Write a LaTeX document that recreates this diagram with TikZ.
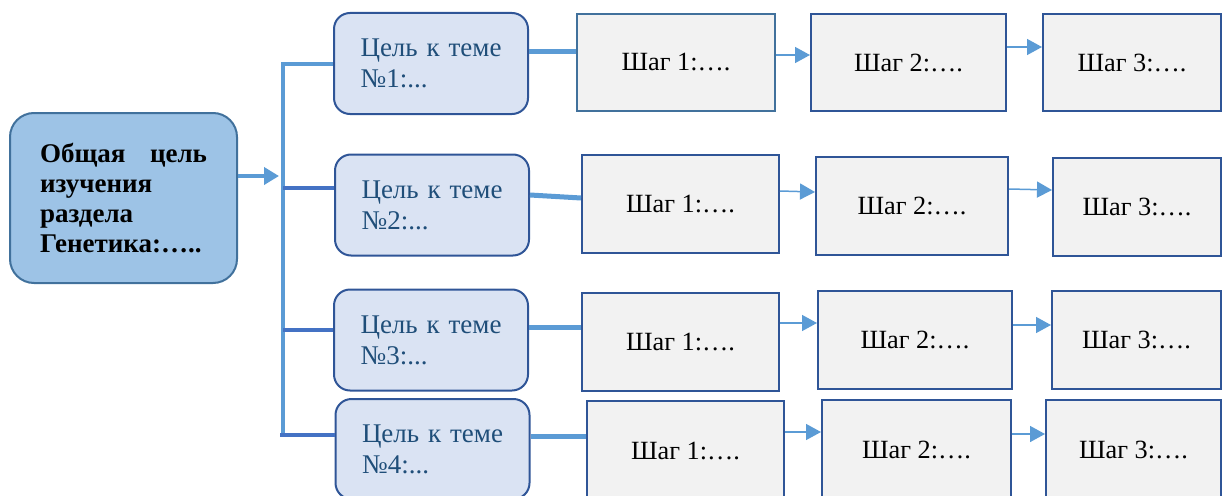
\documentclass[tikz,border=0pt]{standalone}
\usepackage{fontspec}
\setmainfont{Liberation Serif}
\usetikzlibrary{arrows.meta,calc}
\definecolor{mainfill}{HTML}{9DC3E6}
\definecolor{mainborder}{HTML}{41719C}
\definecolor{topicfill}{HTML}{DAE3F3}
\definecolor{topicborder}{HTML}{2F5597}
\definecolor{stepfill}{HTML}{F2F2F2}
\definecolor{stepborder}{HTML}{2F5597}
\definecolor{lightline}{HTML}{5B9BD5}
\definecolor{darkline}{HTML}{4472C4}
\definecolor{topictext}{HTML}{1F4E79}
\tikzset{
  mainbox/.style={draw=mainborder, fill=mainfill, line width=2pt, rounded corners=24pt,
    inner sep=0pt, minimum width=227pt, minimum height=170pt,
    font=\fontsize{27}{30}\selectfont\bfseries, text width=167pt, align=left},
  topicbox/.style={draw=topicborder, fill=topicfill, line width=2pt, rounded corners=16pt,
    inner sep=0pt, minimum width=194pt, minimum height=101pt,
    font=\fontsize{27}{31}\selectfont, text=topictext, text width=141pt, align=left},
  stepbox/.style={draw=stepborder, fill=stepfill, line width=2pt, inner sep=0pt,
    font=\fontsize{26.3}{30}\selectfont},
  barline/.style={draw=lightline, line width=4pt},
  branchline/.style={draw=darkline, line width=4.5pt},
  linkline/.style={draw=lightline, line width=5pt},
  steparrow/.style={draw=lightline, line width=1.5pt, -{Triangle[length=15pt,width=16pt]}},
  mainarrow/.style={draw=lightline, line width=4.5pt, -{Triangle[length=15pt,width=17pt]}},
}
\newcommand{\topictxt}[1]{\makebox[141pt][l]{Цель\hfill к\hfill теме}\\#1}
\begin{document}
\begin{tikzpicture}[x=1pt,y=-1pt]
\useasboundingbox (0,0) rectangle (1222,495);
% main box
\node[mainbox] (m) at (123.5,198) {\makebox[167pt][l]{Общая\hfill цель}\\изучения\\раздела\\Генетика:…..};
% topic boxes
\node[topicbox] (t1) at (431,63.5) {\topictxt{№1:...}};
\node[topicbox] (t2) at (432,205) {\topictxt{№2:...}};
\node[topicbox] (t3) at (431,340) {\topictxt{№3:...}};
\node[topicbox, minimum height=100pt] (t4) at (432.5,449) {\topictxt{№4:...}};
% step boxes row 1
\node[stepbox, draw=mainborder, minimum width=198pt, minimum height=97pt] (s11) at (676,62.5) {Шаг 1:….};
\node[stepbox, minimum width=195pt, minimum height=97pt] (s12) at (908.5,62.5) {Шаг 2:….};
\node[stepbox, minimum width=178pt, minimum height=97pt] (s13) at (1132,62.5) {Шаг 3:….};
% row 2
\node[stepbox, minimum width=197pt, minimum height=98pt] (s21) at (680.5,204) {Шаг 1:….};
\node[stepbox, minimum width=192pt, minimum height=98pt] (s22) at (912,206) {Шаг 2:….};
\node[stepbox, minimum width=168pt, minimum height=98pt] (s23) at (1137,207) {Шаг 3:….};
% row 3
\node[stepbox, minimum width=197pt, minimum height=98pt] (s31) at (680.5,342) {Шаг 1:….};
\node[stepbox, minimum width=194pt, minimum height=98pt] (s32) at (915,340) {Шаг 2:….};
\node[stepbox, minimum width=169pt, minimum height=98pt] (s33) at (1136.5,340) {Шаг 3:….};
% row 4
\node[stepbox, minimum width=197pt, minimum height=100pt] (s41) at (685.5,451) {Шаг 1:….};
\node[stepbox, minimum width=189pt, minimum height=100pt] (s42) at (916.5,450) {Шаг 2:….};
\node[stepbox, minimum width=175pt, minimum height=100pt] (s43) at (1133.5,450) {Шаг 3:….};
% bracket
\coordinate (bbot) at (283,437);
\draw[barline] (t1.west) -| (bbot);
\coordinate (b2) at ($(t2.west)+(0,-17)$);
\coordinate (b3) at ($(t3.west)+(0,-10)$);
\coordinate (b4) at ($(t4.west)+(0,-14)$);
\draw[branchline] (b2) -- (b2 -| bbot);
\draw[branchline] (b3) -- (b3 -| bbot);
\draw[branchline] (b4) -- ($(b4 -| bbot)+(-3,0)$);
% main arrow
\coordinate (ma) at ($(m.east)+(0,-22)$);
\draw[mainarrow] (ma) -- ($(ma -| bbot)+(-4,0)$);
% topic -> step 1 links
\draw[linkline] ($(t1.east)+(0,-11.5)$) -- ($(s11.west)+(0,-10.5)$);
\draw[linkline] ($(t2.east)+(0,-10)$) -- ($(s21.west)+(0,-6)$);
\draw[linkline] ($(t3.east)+(0,-13)$) -- ($(s31.west)+(0,-15)$);
\draw[linkline] ($(t4.east)+(0,-13)$) -- ($(s41.west)+(0,-15)$);
% step arrows
\draw[steparrow] ($(s11.east)+(0,-7.5)$) -- ($(s12.west)+(0,-7.5)$);
\draw[steparrow] ($(s12.east)+(0,-15.5)$) -- ($(s13.west)+(0,-15.5)$);
\draw[steparrow] ($(s21.east)+(0,-13)$) -- ($(s22.west)+(0,-14)$);
\draw[steparrow] ($(s22.east)+(0,-17)$) -- ($(s23.west)+(0,-17)$);
\draw[steparrow] ($(s31.east)+(0,-19)$) -- ($(s32.west)+(0,-17)$);
\draw[steparrow] ($(s32.east)+(0,-15)$) -- ($(s33.west)+(0,-15)$);
\draw[steparrow] ($(s41.east)+(0,-19)$) -- ($(s42.west)+(0,-18)$);
\draw[steparrow] ($(s42.east)+(0,-16)$) -- ($(s43.west)+(0,-16)$);
\end{tikzpicture}
\end{document}
